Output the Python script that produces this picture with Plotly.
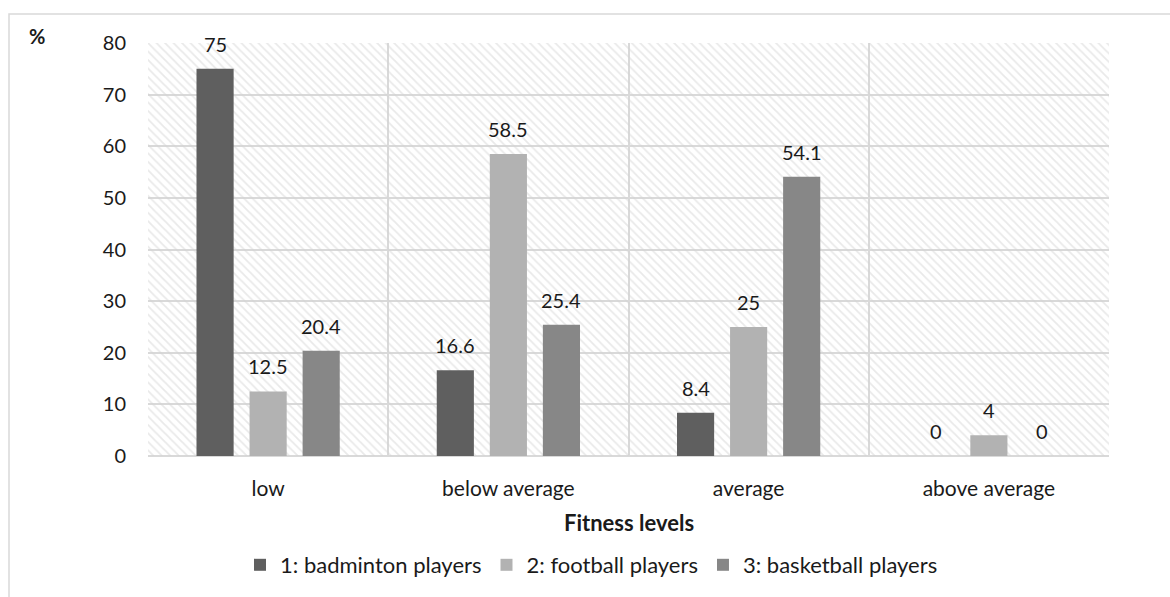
import plotly.graph_objects as go

categories = ["low", "below average", "average", "above average"]
series_names = ["1: badminton players", "2: football players", "3: basketball players"]
badminton = [75, 16.6, 8.4, 0]
football = [12.5, 58.5, 25, 4]
basketball = [20.4, 25.4, 54.1, 0]
series_values = [badminton, football, basketball]
colors = ["#5f5f5f", "#b2b2b2", "#878787"]
Y_MAX = 80
y_ticks = [0, 10, 20, 30, 40, 50, 60, 70, 80]

FONT = "Lato"
FS = 20
TXT = "#1a1a1a"
GRID = "#d9d9d9"

fig = go.Figure()

# hatched plot-area background (main hidden axis)
fig.add_trace(go.Bar(
    x=[0.5], y=[Y_MAX], width=1, xaxis="x", yaxis="y",
    marker=dict(color="rgba(0,0,0,0)", line=dict(width=0),
                pattern=dict(shape="\\", fgcolor="#d4d4d4", bgcolor="rgba(0,0,0,0)",
                             size=6, solidity=0.3)),
    showlegend=False, hoverinfo="skip"))

for name, vals, col in zip(series_names, series_values, colors):
    fig.add_trace(go.Bar(
        x=categories, y=vals, name=name, xaxis="x2", yaxis="y",
        marker=dict(color=col, line=dict(width=0)),
    ))

# value labels
offsets = [-53, 0, 53]
for i, vals in enumerate(series_values):
    for c, v in zip(categories, vals):
        fig.add_annotation(x=c, y=v, xref="x2", yref="y", text=f"{v:g}",
                           showarrow=False, xshift=offsets[i], yshift=25,
                           font=dict(family=FONT, size=FS, color=TXT))

L, R, T, B = 148, 61, 43, 140
W, H = 1170, 597
pw, ph = W - L - R, H - T - B

fig.update_layout(
    width=W, height=H,
    margin=dict(l=L, r=R, t=T, b=B),
    paper_bgcolor="white", plot_bgcolor="white",
    barmode="group", bargap=0.3375, bargroupgap=0.30,
    font=dict(family=FONT, size=FS, color=TXT),
    xaxis=dict(range=[0, 1], visible=False, showgrid=False, zeroline=False, fixedrange=True),
    xaxis2=dict(overlaying="x", anchor="y", side="bottom", type="category",
                tickson="boundaries", showgrid=True, gridcolor=GRID, gridwidth=1.5,
                ticks="", ticklabelstandoff=18, showline=False,
                tickfont=dict(family=FONT, size=21, color=TXT)),
    yaxis=dict(range=[0, Y_MAX], tickvals=y_ticks, showgrid=True, gridcolor=GRID,
               gridwidth=1.5, zeroline=True, zerolinecolor=GRID, zerolinewidth=1.5,
               ticks="", ticklabelstandoff=21,
               tickfont=dict(family=FONT, size=FS, color=TXT)),
    legend=dict(orientation="h", x=(240 - L) / pw, xanchor="left",
                y=(T + ph - 565) / ph, yanchor="middle",
                font=dict(family=FONT, size=22, color=TXT), traceorder="normal"),
    showlegend=True,
)

fig.add_annotation(text="<b>Fitness levels</b>", xref="paper", yref="paper",
                   x=0.5, y=(T + ph - 524) / ph, yanchor="middle", showarrow=False,
                   font=dict(family=FONT, size=22, color=TXT))
fig.add_annotation(text="<b>%</b>", xref="paper", yref="paper",
                   x=(37 - L) / pw, y=1 + (T - 36) / ph, xanchor="center", yanchor="middle",
                   showarrow=False, font=dict(family=FONT, size=FS, color=TXT))

# outer chart border
fig.add_shape(type="rect", xref="paper", yref="paper",
              x0=(9 - L) / pw, x1=(W + 10 - L) / pw,
              y0=-(H + 10 - T - ph) / ph, y1=1 + (T - 14) / ph,
              line=dict(color=GRID, width=1.5), fillcolor="rgba(0,0,0,0)", layer="below")

fig.write_html("out.html")
